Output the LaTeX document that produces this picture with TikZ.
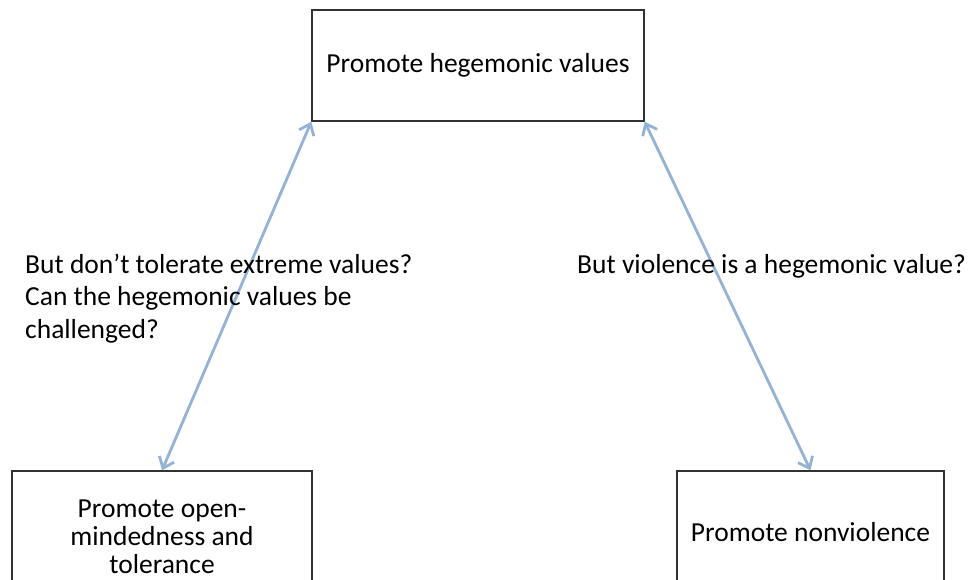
\documentclass[tikz,border=0pt]{standalone}
\usepackage{fontspec}
\setmainfont{Carlito}
\usetikzlibrary{arrows.meta}
\definecolor{arrowblue}{RGB}{148,178,214}
\definecolor{boxline}{RGB}{50,50,50}
\tikzset{
  box/.style={draw=boxline, line width=1.4pt, fill=white, inner sep=0pt,
              align=center, font=\fontsize{27.5}{28}\selectfont},
  link/.style={draw=arrowblue, line width=2.8pt,
               {Straight Barb[length=10pt,width=16pt]}-{Straight Barb[length=10pt,width=16pt]}},
  note/.style={inner sep=0pt, align=left, font=\fontsize{27.5}{32.5}\selectfont}
}
\begin{document}
\begin{tikzpicture}[x=1pt,y=-1pt]
  \useasboundingbox (0,0) rectangle (971,579);
  \clip (0,0) rectangle (971,579);
  \fill[white] (0,0) rectangle (971,579);

  % boxes (the lower two run off the bottom edge)
  \node[box, minimum width=332pt, minimum height=111pt] (top) at (478,65.5)
    {\raisebox{-4pt}{Promote hegemonic values}};
  \node[box, minimum width=300pt, minimum height=131pt] (left) at (162,536.5)
    {Promote open-\\mindedness and\\tolerance};
  \node[box, minimum width=267pt, minimum height=122pt] (right) at (810.5,532)
    {Promote nonviolence};

  % connectors
  \draw[link] (top.south west) -- (left.north);
  \draw[link] (top.south east) -- (right.north);

  % questions
  \node[note, anchor=base west] (qleft) at (25,338)
    {But don’t tolerate extreme values?\\Can the hegemonic values be\\challenged?};
  \node[note, anchor=base west] (qright) at (577,273)
    {But violence is a hegemonic value?};
\end{tikzpicture}
\end{document}
